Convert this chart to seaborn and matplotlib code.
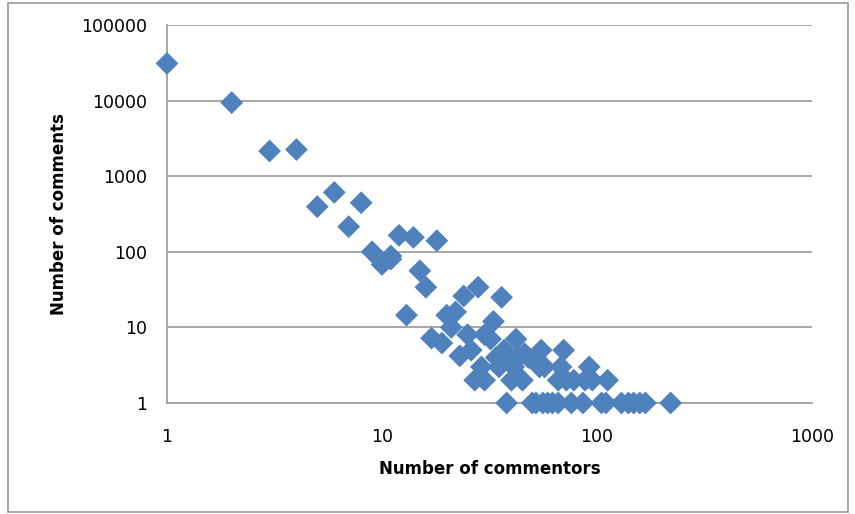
import matplotlib
matplotlib.use('Agg')
import matplotlib.pyplot as plt
import seaborn as sns
import pandas as pd
from matplotlib.patches import Rectangle
from matplotlib.ticker import FixedLocator, FixedFormatter, NullLocator

# values
commentors = [1, 2, 3, 4, 5, 6, 7, 8, 9, 10, 11, 11, 12, 13, 14, 15, 16, 17, 18, 19,
              20, 21, 22, 23, 24, 25, 26, 27, 28, 29, 30, 30, 32, 33, 34, 35, 36, 37,
              38, 39, 40, 41, 42, 43, 45, 46, 48, 50, 52, 54, 55, 56, 57, 59, 62, 66,
              66, 68, 70, 72, 76, 78, 86, 88, 92, 95, 105, 110, 112, 130, 140, 148,
              158, 168, 220]
comments = [31000, 9400, 2150, 2250, 395, 610, 215, 445, 100, 68, 80, 88, 165, 14.5, 155,
            56, 34, 7.2, 140, 6.2, 14.5, 10, 16, 4.2, 26, 8, 5, 2, 34, 3, 8, 2, 7, 12, 4,
            3, 25, 5, 1, 4, 2, 3, 7, 4, 2, 4.5, 4, 1, 1, 3, 5, 1, 3, 1, 1, 1, 2, 3, 5, 2,
            1, 2, 1, 2, 3, 2, 1, 1, 2, 1, 1, 1, 1, 1, 1]

x_ticks = [1, 10, 100, 1000]
y_ticks = [1, 10, 100, 1000, 10000, 100000]

df = pd.DataFrame({'Number of commentors': commentors, 'Number of comments': comments})

sns.set_style('white')
plt.rcParams['font.family'] = ['DejaVu Sans']

fig = plt.figure(figsize=(8.55, 5.14), dpi=100)
ax = fig.add_axes([0.1953, 0.2160, 0.7544, 0.7354])

sns.scatterplot(data=df, x='Number of commentors', y='Number of comments', ax=ax,
                marker='D', s=135, color='#4F81BD', edgecolor='none', clip_on=False,
                zorder=3)

ax.set_xscale('log')
ax.set_yscale('log')
ax.set_xlim(1, 1000)
ax.set_ylim(1, 100000)

ax.xaxis.set_major_locator(FixedLocator(x_ticks))
ax.xaxis.set_major_formatter(FixedFormatter([str(v) for v in x_ticks]))
ax.yaxis.set_major_locator(FixedLocator(y_ticks))
ax.yaxis.set_major_formatter(FixedFormatter([str(v) for v in y_ticks]))
ax.xaxis.set_minor_locator(NullLocator())
ax.yaxis.set_minor_locator(NullLocator())

ax.grid(axis='y', color='#A0A0A0', linewidth=1.3)
ax.set_axisbelow(True)
for side in ['top', 'right']:
    ax.spines[side].set_visible(False)
for side in ['left', 'bottom']:
    ax.spines[side].set_color('#A0A0A0')
    ax.spines[side].set_linewidth(1.3)

ax.tick_params(axis='both', length=0, labelsize=12.5, colors='black')
ax.tick_params(axis='y', pad=14)
ax.tick_params(axis='x', pad=18)

ax.set_xlabel('Number of commentors', fontsize=12, fontweight='bold', labelpad=10,
              color='black')
ax.set_ylabel('Number of comments', fontsize=12, fontweight='bold', labelpad=10,
              color='black')

# chart-area border
fig.patches.append(Rectangle((8 / 855, 2 / 514), 840 / 855, 509 / 514,
                             transform=fig.transFigure, fill=False,
                             edgecolor='#A0A0A0', linewidth=1.3))

fig.savefig('out.png', dpi=100)
